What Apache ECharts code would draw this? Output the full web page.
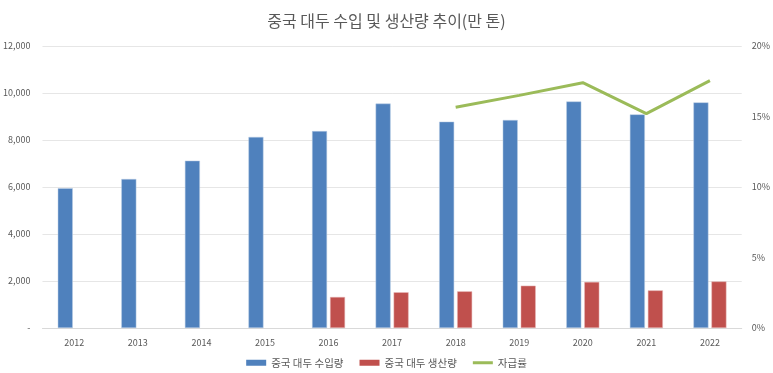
<!DOCTYPE html>
<html><head><meta charset="utf-8">
<script src="https://cdn.jsdelivr.net/npm/echarts@6/dist/echarts.min.js"></script>
<style>html,body{margin:0;padding:0;background:#fff}#c{width:773px;height:373px}</style>
</head><body><div id="c"></div>
<script>
const years = ['2012','2013','2014','2015','2016','2017','2018','2019','2020','2021','2022'];
const importVol = [5950, 6340, 7120, 8130, 8380, 9550, 8780, 8850, 9640, 9090, 9600];
const prodVol = [null, null, null, null, 1320, 1520, 1560, 1800, 1960, 1600, 1980];
const selfRate = [null, null, null, null, null, null, 15.65, 16.5, 17.4, 15.2, 17.55];
const names = ['중국 대두 수입량', '중국 대두 생산량', '자급률'];
const titleText = '중국 대두 수입 및 생산량 추이(만 톤)';

const font = '"Noto Sans CJK KR", "Noto Sans", sans-serif';
const chart = echarts.init(document.getElementById('c'));
chart.setOption({
  animation: false,
  textStyle: {fontFamily: font},
  title: {text: titleText, left: 'center', top: 8,
    textStyle: {fontFamily: font, fontSize: 16, fontWeight: 'normal', color: '#595959'}},
  legend: {
    bottom: 0, left: 'center', itemGap: 16, itemWidth: 20, itemHeight: 6,
    textStyle: {fontFamily: font, fontSize: 10.5, color: '#595959'},
    itemStyle: {borderWidth: 0},
    data: [
      {name: names[0], icon: 'rect'},
      {name: names[1], icon: 'rect'},
      {name: names[2], icon: 'path://M0,0 L20,0 L20,3 L0,3 Z'}
    ]
  },
  grid: {left: 42, right: 30, top: 46, bottom: 45},
  xAxis: {
    type: 'category', data: years,
    axisLine: {lineStyle: {color: '#D9D9D9'}},
    axisTick: {show: false},
    axisLabel: {color: '#595959', fontSize: 9, margin: 10}
  },
  yAxis: [{
    type: 'value', min: 0, max: 12000, interval: 2000,
    axisLine: {show: false}, axisTick: {show: false},
    splitLine: {lineStyle: {color: '#E6E6E6'}},
    axisLabel: {color: '#595959', fontSize: 9, margin: 12,
      formatter: v => v === 0 ? '-' : v.toLocaleString('en-US')}
  }, {
    type: 'value', min: 0, max: 20, interval: 5,
    axisLine: {show: false}, axisTick: {show: false},
    splitLine: {show: false},
    axisLabel: {color: '#595959', fontSize: 9, margin: 10, formatter: v => v + '%'}
  }],
  series: [{
    name: names[0], type: 'bar', data: importVol, barWidth: 15, barGap: '20%',
    itemStyle: {color: '#4F81BD', borderColor: '#B9CDE5', borderWidth: 0.5}
  }, {
    name: names[1], type: 'bar', data: prodVol, barWidth: 15,
    itemStyle: {color: '#C0504D', borderColor: '#E6B9B8', borderWidth: 0.5}
  }, {
    name: names[2], type: 'line', yAxisIndex: 1, data: selfRate,
    showSymbol: false, symbol: 'none', connectNulls: false,
    lineStyle: {color: '#9BBB59', width: 3}, itemStyle: {color: '#9BBB59'}
  }]
});
</script></body></html>
